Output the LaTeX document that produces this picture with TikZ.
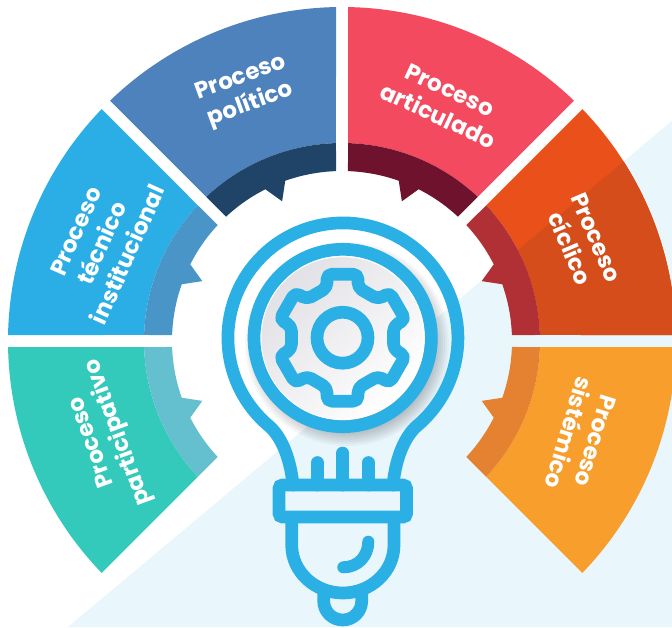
\documentclass[tikz,border=0pt]{standalone}
\usepackage{fontspec}
\setmainfont{Poppins}
\usetikzlibrary{calc}
\definecolor{bulbblue}{HTML}{2BB0E6}
\definecolor{paleblue}{HTML}{E9F6FC}
\tikzset{
  lbl/.style={text=white,align=center,inner sep=0pt,font=\fontsize{23}{28.5}\selectfont\bfseries},
  bulbline/.style={draw=bulbblue,line width=12.7pt,line cap=round,line join=round},
}
% #1 axis angle, #2 direction (+1/-1)
\newcommand{\sectorshape}[2]{
  ({#1+#2*1.03}:334) arc[start angle={#1+#2*1.03},end angle={#1+#2*43.97},radius=334]
  -- ({#1+#2*43.26}:198) arc[start angle={#1+#2*43.26},end angle={#1+#2*1.74},radius=198] -- cycle}
\newcommand{\sectorband}[3]{
  \fill[#3] ({#1+#2*1.74}:198) arc[start angle={#1+#2*1.74},end angle={#1+#2*43.26},radius=198]
  -- ({#1+#2*42.98}:170) arc[start angle={#1+#2*42.98},end angle={#1+#2*26.8},radius=170]
  -- ({#1+#2*23.2}:152) -- ({#1+#2*19.5}:170)
  arc[start angle={#1+#2*19.5},end angle={#1+#2*2.02},radius=170] -- cycle;}
% point (x,y) of the gear tooth turned clockwise by angle #1
\newcommand{\gearpt}[3]{({(#2)*cos(#1)+(#3)*sin(#1)},{-(#2)*sin(#1)+(#3)*cos(#1)})}
\newcommand{\geartooth}[1]{\gearpt{#1}{-15.5}{50} -- \gearpt{#1}{-15.5}{63.5} -- \gearpt{#1}{15.5}{63.5} -- \gearpt{#1}{15.5}{50}}
\begin{document}
\begin{tikzpicture}[x=1pt,y=1pt]
\useasboundingbox (0,-627) rectangle (672,0);
\fill[white] (0,-627) rectangle (672,0);
% pale background triangle
\fill[paleblue] (68,-627) -- (672,-121) -- (672,-627) -- cycle;
\begin{scope}
\clip (0,-627) rectangle (672,0);
\begin{scope}[shift={(342,-341)}]
  \fill[color={rgb,255:red,78;green,130;blue,188}] \sectorshape{90}{1};
  \sectorband{90}{1}{color={rgb,255:red,31;green,68;blue,104}}
  \fill[color={rgb,255:red,243;green,74;blue,96}] \sectorshape{90}{-1};
  \sectorband{90}{-1}{color={rgb,255:red,110;green,18;blue,45}}
  \fill[color={rgb,255:red,43;green,174;blue,230}] \sectorshape{180}{-1};
  \sectorband{180}{-1}{color={rgb,255:red,74;green,149;blue,200}}
  \fill[color={rgb,255:red,51;green,201;blue,187}] \sectorshape{180}{1};
  \sectorband{180}{1}{color={rgb,255:red,100;green,192;blue,207}}
  \fill[color={rgb,255:red,247;green,158;blue,44}] \sectorshape{0}{-1};
  \sectorband{0}{-1}{color={rgb,255:red,229;green,130;blue,49}}
  \fill[color={rgb,255:red,234;green,80;blue,25}] \sectorshape{0}{1};
  \begin{scope}
    \clip \sectorshape{0}{1};
    \fill[color={rgb,255:red,212;green,77;blue,26}] (-274,-286) -- (330,220) -- (330,-286) -- cycle;
  \end{scope}
  \sectorband{0}{1}{color={rgb,255:red,176;green,48;blue,54}}
\end{scope}
\end{scope}
% labels
\node[lbl,rotate=20] (polit) at (246,-92) {Proceso\\político};
\node[lbl,rotate=-25] (artic) at (444,-103) {Proceso\\articulado};
\node[lbl,rotate=-67] (cicl) at (583,-243) {Proceso\\cíclico};
\node[lbl,rotate=-107] (sist) at (582,-437) {Proceso\\sistémico};
\node[lbl,rotate=110] (parti) at (106,-437) {Proceso\\participativo};
\node[lbl,rotate=66] (tecn) at (102,-243) {Proceso\\técnico\\institucional};
% shadow of the ring
\foreach \r in {88,90,...,102}{
  \fill[black,opacity=0.03] (347,-344) circle (\r);
}
% bulb
\draw[bulbline] (293,-485) .. controls (290,-455) and (279.7,-435) .. (269,-426)
  arc[start angle=230,end angle=-50,radius=115]
  .. controls (406.3,-435) and (396,-455) .. (393,-485);
\draw[bulbline] (317.3,-462.5) -- (317.3,-485);
\draw[bulbline] (342.7,-453) -- (342.7,-485);
\draw[bulbline] (368.3,-462.5) -- (368.3,-485);
\draw[bulbline,rounded corners=3.5pt,line join=miter] (279,-485) rectangle (406.5,-517);
\draw[bulbline,line cap=butt] (291.7,-517) -- (291.7,-545)
  arc[start angle=180,end angle=360,x radius=51.15,y radius=48] -- (394,-517);
\draw[bulbline,line cap=butt] (323.7,-590) -- (323.7,-601)
  arc[start angle=180,end angle=360,radius=19] -- (361.7,-590);
\draw[bulbline,line width=12pt] (368.3,-541.7) .. controls (368.3,-556) and (358,-567.3) .. (343.3,-567.3);
% disc
\fill[black!30] (343.5,-339) circle (82.5);
\fill[white] (342.5,-337.7) circle (82.5);
\shade[top color={rgb,255:red,225;green,225;blue,230},bottom color=white,shading angle=45]
  (342.5,-338.2) circle (81);
\draw[bulbline,line cap=butt] (342.7,-338) circle (88.7);
% gear
\begin{scope}[shift={(342.5,-337.7)}]
  \draw[bulbline,rounded corners=5pt]
    \geartooth{0} -- \geartooth{60} -- \geartooth{120} -- \geartooth{180} -- \geartooth{240} -- \geartooth{300} -- cycle;
  \draw[bulbline,line cap=butt] (0,0) circle (25.5);
\end{scope}
\end{tikzpicture}
\end{document}
